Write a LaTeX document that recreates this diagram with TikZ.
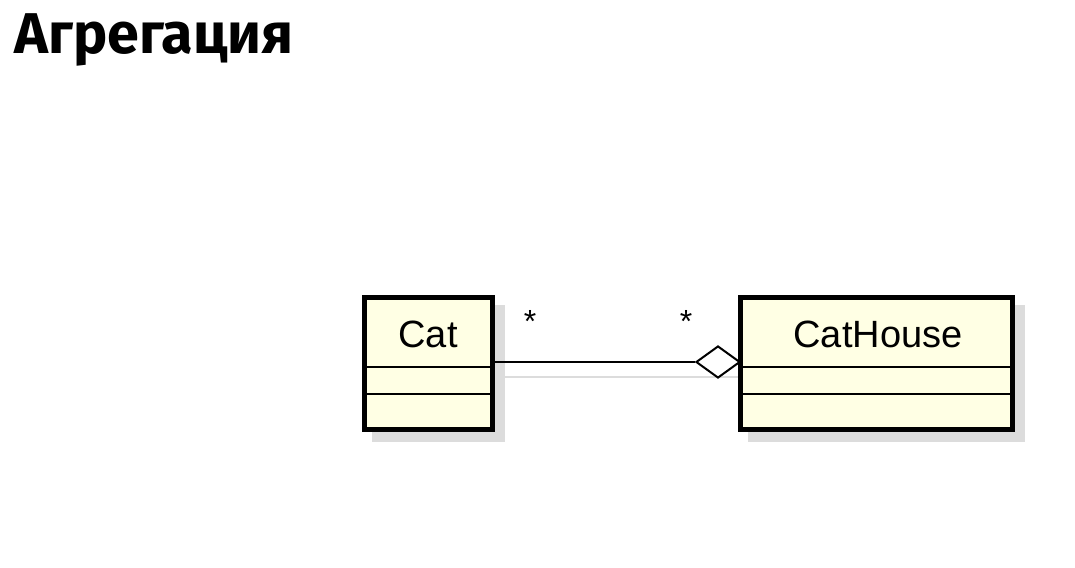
\documentclass[tikz,border=0pt]{standalone}
\usepackage{fontspec}
\setmainfont{Liberation Sans}
\newfontfamily\titlefont{Fira Sans}
\usetikzlibrary{shapes.geometric}
\definecolor{classfill}{RGB}{255,255,228}
\definecolor{shadowc}{RGB}{220,220,220}
\begin{document}
\begin{tikzpicture}[x=1pt,y=-1pt,
  classbox/.style={draw=black,line width=5pt,fill=classfill,inner sep=0pt,outer sep=0pt,minimum height=132pt},
  shadowbox/.style={fill=shadowc,draw=none},
  divider/.style={line width=2pt,black},
  classname/.style={font=\fontsize{38}{40}\selectfont,inner sep=0pt},
  mult/.style={font=\fontsize{32}{34}\selectfont,inner sep=0pt},
  aggr/.style={draw=black,fill=white,line width=2pt,shape=diamond,inner sep=0pt,minimum width=44pt,minimum height=32pt},
  conn/.style={line width=2pt,black}]
\useasboundingbox (0,0) rectangle (1075,567);
\fill[white] (0,0) rectangle (1075,567);
% title
\node[anchor=base west,inner sep=0pt,font=\titlefont\bfseries\fontsize{57.5}{60}\selectfont] (title) at (14,54) {Агрегация};
% shadows
\fill[shadowbox] (372,305) rectangle (505,442);
\fill[shadowbox] (748,305) rectangle (1025,442);
\draw[shadowc,line width=2pt] (505,377) -- (745,377);
% classes
\node[classbox,minimum width=128pt] (cat) at (428.5,363.5) {};
\node[classbox,minimum width=272pt] (house) at (876.5,363.5) {};
\draw[divider] ([yshift=-3.5pt]cat.west) -- ([yshift=-3.5pt]cat.east);
\draw[divider] ([yshift=-30.5pt]cat.west) -- ([yshift=-30.5pt]cat.east);
\draw[divider] ([yshift=-3.5pt]house.west) -- ([yshift=-3.5pt]house.east);
\draw[divider] ([yshift=-30.5pt]house.west) -- ([yshift=-30.5pt]house.east);
\node[classname] (catname) at (428,334) {Cat};
\node[classname] (housename) at (878,334) {CatHouse};
% aggregation
\node[aggr] (dia) at (718,362) {};
\draw[conn] (cat.east |- dia.west) -- (dia.west);
\node[mult] (m1) at (530,321) {*};
\node[mult] (m2) at (686,321) {*};
\end{tikzpicture}
\end{document}
